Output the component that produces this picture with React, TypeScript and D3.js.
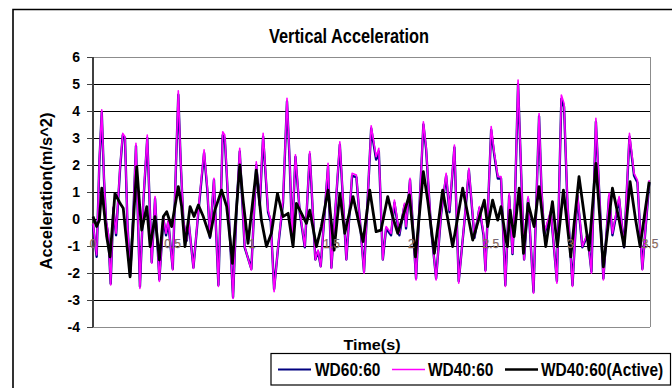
import React from 'react';
import * as d3 from 'd3';

const timeA = [0.000,0.023,0.040,0.055,0.069,0.082,0.096,0.111,0.128,0.145,0.170,0.187,0.201,0.216,0.233,0.254,0.270,0.283,0.295,0.316,0.341,0.354,0.369,0.390,0.417,0.442,0.459,0.473,0.501,0.522,0.536,0.551,0.568,0.589,0.601,0.631,0.662,0.698,0.718,0.735,0.760,0.788,0.815,0.828,0.840,0.880,0.901,0.922,0.953,0.995,1.026,1.048,1.069,1.100,1.117,1.138,1.163,1.194,1.219,1.236,1.251,1.272,1.299,1.331,1.362,1.397,1.414,1.431,1.477,1.498,1.551,1.592,1.628,1.655,1.703,1.748,1.779,1.796,1.821,1.842,1.873,1.894,1.925,1.957,1.967,1.992,2.030,2.076,2.093,2.124,2.156,2.187,2.219,2.240,2.271,2.298,2.334,2.362,2.397,2.428,2.454,2.466,2.502,2.522,2.544,2.564,2.591,2.615,2.636,2.651,2.671,2.688,2.709,2.734,2.768,2.803,2.818,2.835,2.877,2.915,2.943,2.960,2.981,3.013,3.044,3.075,3.107,3.132,3.160,3.180,3.207,3.243,3.264,3.306,3.337,3.371,3.400,3.421,3.452,3.495];

const wd4060 = [-0.16,-1.33,2.2,4.04,1.57,-0.04,-0.53,-2.44,0.46,-0.53,1.94,3.17,3.05,-0.04,-2.14,0.33,2.8,-0.04,-2.57,0.7,3.11,0.95,-1.64,0.83,-2.31,0.09,-0.53,-0.04,-1.89,2.19,4.75,2.19,-0.04,-0.78,-0.04,-1.83,0.33,2.56,1.2,-0.65,1.51,-2.5,3.23,3.11,1.81,-2.94,0.33,2.62,-1.02,-1.89,2.12,0.58,3.17,0.33,-0.04,-2.69,-1.02,0.7,4.47,2.19,-0.53,2.38,0.33,-1.02,2.5,-1.51,-1.15,-1.77,2.06,-1.83,2.86,-1.51,1.69,1.63,-2.01,3.45,2.31,2.62,-1.51,-0.28,-0.53,0.7,-0.53,0.58,-0.28,1.51,-2.26,3.6,2.68,-0.28,-2.26,0.21,1.69,0.33,2.74,-2.38,-0.04,1.88,-0.65,0.46,-0.53,-1.95,3.42,2.43,1.57,1.57,-2.5,0.95,-1.27,0.7,5.15,2.19,-1.51,0.83,-2.75,3.91,1.2,-0.53,0.33,-2.38,4.59,4.28,0.7,-2.5,0.95,-1.02,-0.53,-2.01,3.73,1.2,-2.26,0.95,-0.53,0.83,-1.02,3.17,1.69,1.44,-1.89,1.44];

const wd6060 = [-0.2,-1.4,2.1,3.95,1.5,-0.1,-0.6,-2.4,0.4,-0.6,1.85,3.1,3.0,-0.1,-2.1,0.25,2.7,-0.1,-2.5,0.6,3.0,0.9,-1.6,0.75,-2.25,0.0,-0.6,-0.1,-1.85,2.1,4.6,2.1,-0.1,-0.8,-0.1,-1.8,0.25,2.45,1.1,-0.7,1.45,-2.45,3.1,3.0,1.7,-2.9,0.25,2.5,-1.05,-1.85,2.0,0.5,3.05,0.25,-0.1,-2.6,-1.05,0.6,4.35,2.1,-0.6,2.3,0.25,-1.05,2.4,-1.5,-1.2,-1.75,1.95,-1.8,2.75,-1.5,1.6,1.55,-1.95,3.35,2.2,2.5,-1.5,-0.35,-0.6,0.6,-0.6,0.5,-0.35,1.45,-2.2,3.5,2.6,-0.35,-2.2,0.15,1.6,0.25,2.65,-2.3,-0.1,1.8,-0.7,0.4,-0.6,-1.9,3.3,2.35,1.5,1.5,-2.45,0.85,-1.3,0.6,5.0,2.1,-1.5,0.75,-2.7,3.8,1.1,-0.6,0.25,-2.3,4.45,4.15,0.6,-2.45,0.85,-1.05,-0.6,-1.95,3.6,1.1,-2.2,0.85,-0.6,0.75,-1.05,3.05,1.6,1.35,-1.85,1.35];

const timeB = [0.000,0.023,0.040,0.055,0.076,0.086,0.107,0.138,0.170,0.190,0.212,0.233,0.254,0.275,0.292,0.306,0.338,0.359,0.390,0.417,0.442,0.463,0.494,0.536,0.557,0.578,0.610,0.635,0.662,0.693,0.735,0.766,0.808,0.840,0.862,0.876,0.922,0.943,0.974,1.026,1.058,1.090,1.121,1.159,1.194,1.226,1.257,1.278,1.310,1.341,1.362,1.404,1.435,1.477,1.515,1.551,1.582,1.634,1.697,1.739,1.779,1.810,1.852,1.883,1.915,1.988,2.026,2.076,2.103,2.145,2.197,2.260,2.323,2.386,2.459,2.480,2.511,2.543,2.564,2.595,2.604,2.621,2.646,2.678,2.705,2.734,2.772,2.803,2.845,2.887,2.918,2.956,3.002,3.054,3.117,3.160,3.207,3.264,3.306,3.337,3.375,3.410,3.438,3.495];

const wdActive = [0.09,-0.28,-0.04,1.14,-0.04,-0.65,-1.4,0.95,0.58,0.4,-0.9,-2.14,-0.04,1.94,0.58,-0.41,0.46,-1.02,0.09,-1.51,0.09,0.27,-0.28,1.2,0.46,-1.02,0.46,0.09,0.52,0.09,-0.65,0.33,1.07,0.46,-0.78,-1.64,2.0,0.7,-0.9,1.81,-0.04,-1.02,-0.53,0.95,0.09,0.21,-1.02,0.58,0.21,-0.16,0.33,-1.02,-0.28,1.07,-1.15,0.95,-0.53,0.83,-0.84,1.07,-0.47,-0.41,0.83,0.09,-0.53,0.89,-1.4,1.75,0.7,-1.27,1.07,-1.02,1.14,-0.78,0.7,-0.28,0.7,-0.04,0.46,-0.78,-1.02,0.33,-0.65,1.14,-1.27,0.58,-0.28,1.2,-1.02,0.64,-1.02,1.07,-1.4,1.57,-1.15,2.06,-1.77,1.14,-0.04,-1.02,1.38,-0.04,-1.02,1.38];

const yTickValues = [6, 5, 4, 3, 2, 1, 0, -1, -2, -3, -4];
const xTickValues = [0, 0.5, 1, 1.5, 2, 2.5, 3, 3.5];
const xTickLabels = ["0", "0.5", "1", "1.5", "2", "2.5", "3", "3.5"];
const seriesNames = ["WD60:60", "WD40:60", "WD40:60(Active)"];
const seriesColors = ["#000080", "#FF00FF", "#000000"];
const titleText = "Vertical Acceleration";
const xTitle = "Time(s)";
const yTitle = "Acceleration(m/s^2)";

const FONT = "'Liberation Sans', Arial, Helvetica, sans-serif";

export default function App() {
  const W = 672, H = 388;
  const left = 93, right = 650, top = 57, bottom = 327;
  const x = d3.scaleLinear().domain([0, 3.5]).range([left, right]);
  const y = d3.scaleLinear().domain([-4, 6]).range([bottom, top]);

  const lineA = d3.line<number>().x((_, i) => x(timeA[i])).y(d => y(d));
  const lineB = d3.line<number>().x((_, i) => x(timeB[i])).y(d => y(d));

  const legendItems = [
    { name: seriesNames[0], color: seriesColors[0], lx: 278, tx: 315, sw: 2 },
    { name: seriesNames[1], color: seriesColors[1], lx: 392, tx: 428, sw: 1.5 },
    { name: seriesNames[2], color: seriesColors[2], lx: 505, tx: 541, sw: 2.5 },
  ];

  return (
    <svg width={W} height={H} style={{ position: 'absolute', left: 0, top: 0, background: '#fff' }}
      fontFamily={FONT}>
      <rect x={0} y={0} width={W} height={H} fill="#fff" />
      {/* outer chart border */}
      <path d={`M13,${H + 2} L13,9.5 L${W + 5},9.5`} fill="none" stroke="#000" strokeWidth={1.6} />

      {/* title */}
      <text x={349} y={43} textAnchor="middle" fontSize={20} fontWeight="bold"
        textLength={160} lengthAdjust="spacingAndGlyphs">{titleText}</text>

      {/* gridlines */}
      {yTickValues.map(v => (
        <line key={'g' + v} x1={left} x2={right} y1={y(v)} y2={y(v)}
          stroke={v === 6 || v === -4 ? '#8c8c8c' : '#000'} strokeWidth={1} shapeRendering="crispEdges" />
      ))}
      <line x1={right} x2={right} y1={top} y2={bottom} stroke="#8c8c8c" strokeWidth={1} shapeRendering="crispEdges" />

      {/* y axis */}
      <line x1={left} x2={left} y1={top} y2={bottom} stroke="#404040" strokeWidth={1.3} shapeRendering="crispEdges" />
      {yTickValues.map(v => (
        <g key={'t' + v}>
          <line x1={left - 6} x2={left} y1={y(v)} y2={y(v)} stroke="#404040" strokeWidth={1} shapeRendering="crispEdges" />
          <text x={80} y={y(v) + 5} textAnchor="end" fontSize={14} fontWeight="bold">{v}</text>
        </g>
      ))}
      <text transform={`translate(52,${191}) rotate(-90)`} textAnchor="middle" fontSize={16} fontWeight="bold"
        textLength={157} lengthAdjust="spacingAndGlyphs">{yTitle}</text>

      {/* series */}
      <path d={lineA(wd6060) || ''} fill="none" stroke={seriesColors[0]} strokeWidth={2.4} strokeLinejoin="round" />
      <path d={lineA(wd4060) || ''} fill="none" stroke={seriesColors[1]} strokeWidth={1.6} strokeLinejoin="round" />
      <path d={lineB(wdActive) || ''} fill="none" stroke={seriesColors[2]} strokeWidth={2.8} strokeLinejoin="round" />

      {/* x tick labels */}
      {xTickValues.map((t, i) => (
        <text key={'x' + t} x={x(t)} y={y(-1) + 2} textAnchor="middle" fontSize={12}
          fill="#b8732a" stroke="#4060b0" strokeWidth={0.25}>{xTickLabels[i]}</text>
      ))}

      {/* x title */}
      <text x={372} y={350} textAnchor="middle" fontSize={15} fontWeight="bold"
        textLength={57} lengthAdjust="spacingAndGlyphs">{xTitle}</text>

      {/* legend */}
      <rect x={271} y={353.5} width={399.5} height={31.5} fill="#fff" stroke="#000" strokeWidth={1.2} />
      {legendItems.map(it => (
        <g key={it.name}>
          <line x1={it.lx} x2={it.lx + 33} y1={369.5} y2={369.5} stroke={it.color} strokeWidth={it.sw} />
          <text transform={`translate(${it.tx},375.5) scale(1,1.2)`} fontSize={15.5} fontWeight="bold">{it.name}</text>
        </g>
      ))}
    </svg>
  );
}
